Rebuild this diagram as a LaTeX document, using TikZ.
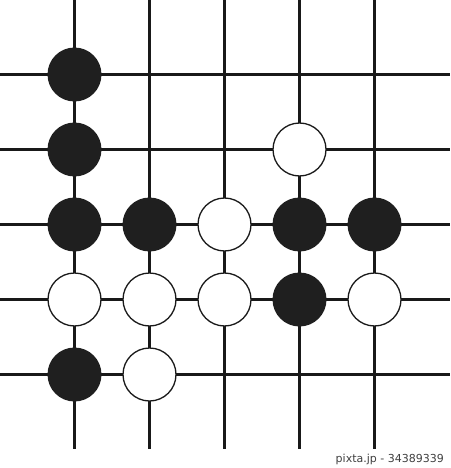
\documentclass[tikz,border=0pt]{standalone}
\usepackage{fontspec}
\setmainfont{DejaVu Sans}
\begin{document}
\begin{tikzpicture}[x=1pt,y=-1pt,
  gridline/.style={line width=3pt,color=black!90},
  blackstone/.style={circle,fill=black!88,minimum size=54pt,inner sep=0pt},
  whitestone/.style={circle,fill=white,draw=black!90,line width=1.3pt,minimum size=53pt,inner sep=0pt}]
\useasboundingbox (0,0) rectangle (450,468);
\foreach \v in {74.5,149.5,224.5,299.5,374.5}{
  \draw[gridline] (\v,0) -- (\v,449);
  \draw[gridline] (0,\v) -- (450,\v);
}
% black stones
\node[blackstone] (b11) at (74.5,74.5) {};
\node[blackstone] (b12) at (74.5,149.5) {};
\node[blackstone] (b13) at (74.5,224.5) {};
\node[blackstone] (b23) at (149.5,224.5) {};
\node[blackstone] (b43) at (299.5,224.5) {};
\node[blackstone] (b53) at (374.5,224.5) {};
\node[blackstone] (b44) at (299.5,299.5) {};
\node[blackstone] (b15) at (74.5,374.5) {};
% white stones
\node[whitestone] (w42) at (299.5,149.5) {};
\node[whitestone] (w33) at (224.5,224.5) {};
\node[whitestone] (w14) at (74.5,299.5) {};
\node[whitestone] (w24) at (149.5,299.5) {};
\node[whitestone] (w34) at (224.5,299.5) {};
\node[whitestone] (w54) at (374.5,299.5) {};
\node[whitestone] (w25) at (149.5,374.5) {};
\node[anchor=east,inner sep=0pt,text=black!75,font=\fontsize{11}{13}\selectfont] (credit) at (444,459) {pixta.jp - 34389339};
\end{tikzpicture}
\end{document}
